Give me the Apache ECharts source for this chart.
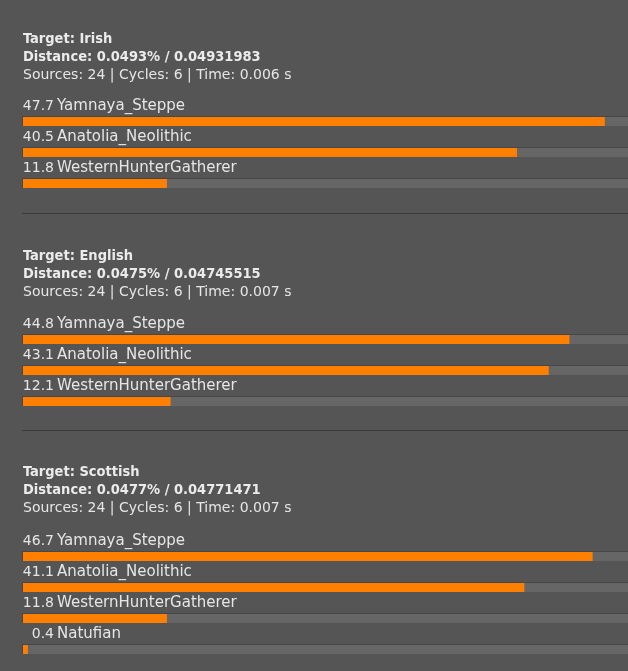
<!DOCTYPE html>
<html>
<head>
<meta charset="utf-8">
<script src="https://cdn.jsdelivr.net/npm/echarts@6/dist/echarts.min.js"></script>
<style>
  html, body { margin: 0; padding: 0; background: #555555; }
  #chart { width: 628px; height: 671px; }
</style>
</head>
<body>
<div id="chart"></div>
<script>
// one block per target population
var targets = ['Irish', 'English', 'Scottish'];
var distances = ['0.0493% / 0.04931983', '0.0475% / 0.04745515', '0.0477% / 0.04771471'];
var sources = [24, 24, 24];
var cycles = [6, 6, 6];
var times = ['0.006', '0.007', '0.007'];

var irishNames = ['Yamnaya_Steppe', 'Anatolia_Neolithic', 'WesternHunterGatherer'];
var irishValues = [47.7, 40.5, 11.8];
var englishNames = ['Yamnaya_Steppe', 'Anatolia_Neolithic', 'WesternHunterGatherer'];
var englishValues = [44.8, 43.1, 12.1];
var scottishNames = ['Yamnaya_Steppe', 'Anatolia_Neolithic', 'WesternHunterGatherer', 'Natufian'];
var scottishValues = [46.7, 41.1, 11.8, 0.4];

var blockNames = [irishNames, englishNames, scottishNames];
var blockValues = [irishValues, englishValues, scottishValues];

var FONT = '"DejaVu Sans", "Noto Sans", sans-serif';
var BOLD_FONT = '"DejaVu Sans Condensed", "Noto Sans", sans-serif';
var ROW = 31;
var rowCenters = [110, 328, 545];   // centre of first band in each block
var headerTops = [29.5, 246.5, 462.5];

var chart = echarts.init(document.getElementById('chart'), null, { renderer: 'canvas' });

var renderRow = function (params, api) {
  var val = api.value(0);
  var idx = api.value(1);
  var start = api.coord([0, idx]);
  var end = api.coord([val, idx]);
  var cs = params.coordSys;
  var cy = start[1];
  var names = blockNames[params.seriesIndex];
  return {
    type: 'group',
    children: [
      { type: 'rect', shape: { x: start[0] - 1, y: cy + 6, width: cs.width + 1, height: 10 }, style: { fill: '#474747' } },
      { type: 'rect', shape: { x: start[0], y: cy + 7, width: cs.width, height: 9 }, style: { fill: '#666666' } },
      { type: 'rect', shape: { x: start[0], y: cy + 7, width: end[0] - start[0], height: 9 }, style: { fill: '#ff8000' } },
      { type: 'text', style: { x: start[0] + 31, y: cy - 4, text: val.toFixed(1), align: 'right', verticalAlign: 'middle',
          fill: '#e6e6e6', font: '14px ' + FONT } },
      { type: 'text', style: { x: start[0] + 34, y: cy - 4, text: names[idx], align: 'left', verticalAlign: 'middle',
          fill: '#e6e6e6', font: '15px ' + FONT } }
    ]
  };
};

var titles = [], grids = [], xAxes = [], yAxes = [], series = [];
for (var i = 0; i < targets.length; i++) {
  titles.push({
    left: 23,
    top: headerTops[i],
    padding: 0,
    text: '{b|Target: ' + targets[i] + '}\n{b|Distance: ' + distances[i] + '}\n{n|Sources: ' + sources[i] +
      ' | Cycles: ' + cycles[i] + ' | Time: ' + times[i] + ' s}',
    textStyle: {
      rich: {
        b: { fontFamily: BOLD_FONT, fontSize: 14.5, fontWeight: 'bold', color: '#ebebeb', lineHeight: 18.5 },
        n: { fontFamily: FONT, fontSize: 14, fontWeight: 'normal', color: '#e6e6e6', lineHeight: 18.5 }
      }
    }
  });
  var n = blockNames[i].length;
  grids.push({ left: 23, right: 0, top: rowCenters[i] - ROW / 2, height: ROW * n });
  xAxes.push({ gridIndex: i, type: 'value', min: 0, max: 49.6, show: false });
  yAxes.push({ gridIndex: i, type: 'category', inverse: true, data: blockNames[i], show: false });
  series.push({
    type: 'custom',
    xAxisIndex: i,
    yAxisIndex: i,
    renderItem: renderRow,
    encode: { x: 0, y: 1 },
    data: blockValues[i].map(function (v, k) { return [v, k]; }),
    silent: true
  });
}

chart.setOption({
  backgroundColor: '#555555',
  animation: false,
  title: titles,
  grid: grids,
  xAxis: xAxes,
  yAxis: yAxes,
  series: series,
  graphic: [
    { type: 'line', shape: { x1: 22, y1: 213.5, x2: 628, y2: 213.5 }, style: { stroke: '#3a3a3a', lineWidth: 1 } },
    { type: 'line', shape: { x1: 22, y1: 430.5, x2: 628, y2: 430.5 }, style: { stroke: '#3a3a3a', lineWidth: 1 } }
  ]
});
</script>
</body>
</html>
